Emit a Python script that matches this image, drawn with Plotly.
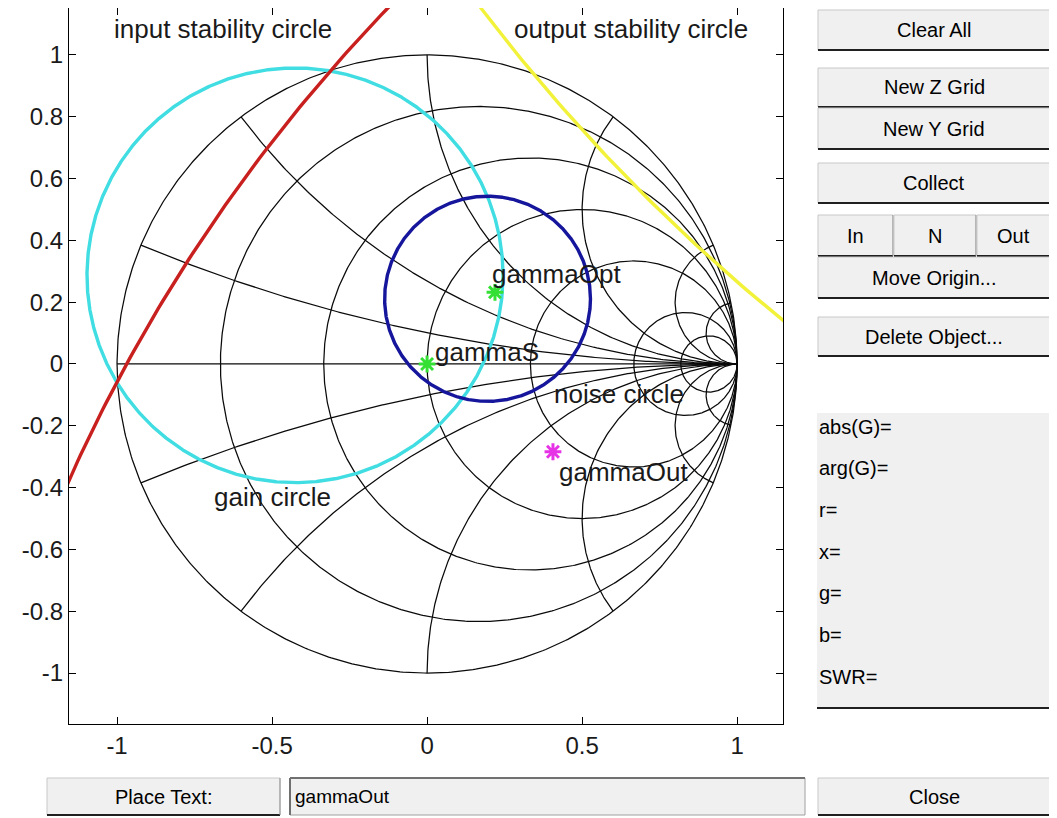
import numpy as np
import plotly.graph_objects as go

# ---------------- data ----------------
# Smith chart grid: constant-resistance circles and constant-reactance arcs
r_values = [0, 0.2, 0.5, 1, 2, 5, 10]
x_values = [0.2, 0.5, 1, 2, 5, 10]

# design circles in the reflection-coefficient plane
circle_names = ["gain circle", "noise circle", "input stability circle", "output stability circle"]
circle_cx = [-0.426, 0.195, 3.74, 4.93]
circle_cy = [0.287, 0.211, -2.56, 4.76]
circle_r = [0.671, 0.332, 5.36, 5.97]

# reflection-coefficient points
point_names = ["gammaS", "gammaOpt", "gammaOut"]
point_re = [0.0, 0.219, 0.406]
point_im = [0.0, 0.232, -0.284]

# text labels placed on the chart
label_text = ["input stability circle", "output stability circle", "gammaOpt", "gammaS",
              "noise circle", "gammaOut", "gain circle"]
label_x = [-1.016, 0.274, 0.203, 0.019, 0.403, 0.419, -0.694]
label_y = [1.084, 1.084, 0.290, 0.040, -0.098, -0.348, -0.432]

x_ticks = [-1, -0.5, 0, 0.5, 1]
x_ticktext = ["-1", "-0.5", "0", "0.5", "1"]
y_ticks = [1, 0.8, 0.6, 0.4, 0.2, 0, -0.2, -0.4, -0.6, -0.8, -1]
y_ticktext = ["1", "0.8", "0.6", "0.4", "0.2", "0", "-0.2", "-0.4", "-0.6", "-0.8", "-1"]

button_labels = ["Clear All", "New Z Grid", "New Y Grid", "Collect", "In", "N", "Out",
                 "Move Origin...", "Delete Object...", "Place Text:", "Close"]
readout_labels = ["abs(G)=", "arg(G)=", "r=", "x=", "g=", "b=", "SWR="]
text_field_value = "gammaOut"

# ---------------- styles / layout ----------------
OFF = 8                       # page body margin of the browser
W, H = 1057 - OFF, 818 - OFF  # figure size
AX_L, AX_R, AX_T, AX_B = 69, 783, 8, 724   # target pixel box of the axes on the page
FONT = "Liberation Sans, Arial, sans-serif"
circle_colors = ["#40dde2", "#16169c", "#c8201e", "#f2f23a"]
point_colors = ["#33e033", "#33e033", "#e633e6"]

button_boxes = [
    (818, 10, 1050, 50), (818, 68, 1050, 107), (818, 108, 1050, 149), (818, 163, 1050, 203),
    (818, 215, 893, 256), (894, 215, 976, 256), (977, 215, 1050, 256), (818, 257, 1050, 298),
    (818, 317, 1050, 356), (47, 778, 280, 815), (818, 778, 1050, 815),
]
readout_box = (817, 413, 1050, 708)
readout_ys = [427, 468, 510, 552, 593, 635, 677]
field_box = (290, 778, 805, 815)


def gamma(z):
    return (z - 1) / (z + 1)


gx, gy = [], []
t = np.linspace(0, 2 * np.pi, 721)
for r in r_values:
    c = r / (1 + r)
    rad = 1 / (1 + r)
    gx += list(c + rad * np.cos(t)) + [None]
    gy += list(rad * np.sin(t)) + [None]
rr = np.concatenate([np.linspace(0, 1, 120, endpoint=False), np.logspace(0, 5, 400)])
for xv in x_values:
    for s in (1, -1):
        g = gamma(rr + 1j * s * xv)
        gx += list(g.real) + [1.0, None]
        gy += list(g.imag) + [0.0, None]
gx += [-1, 1, None]
gy += [0, 0, None]

fig = go.Figure()
fig.add_trace(go.Scatter(x=gx, y=gy, mode="lines", line=dict(color="#0a0a0a", width=1.25),
                         hoverinfo="skip", showlegend=False))

tt = np.linspace(0, 2 * np.pi, 1441)
for name, cx, cy, rad, col in zip(circle_names, circle_cx, circle_cy, circle_r, circle_colors):
    fig.add_trace(go.Scatter(x=cx + rad * np.cos(tt), y=cy + rad * np.sin(tt), mode="lines",
                             line=dict(color=col, width=3.4), name=name, showlegend=False))

for name, px, py, col in zip(point_names, point_re, point_im, point_colors):
    fig.add_trace(go.Scatter(x=[px], y=[py], mode="markers", name=name, showlegend=False,
                             marker=dict(symbol="asterisk-open", size=14, color=col,
                                         line=dict(color=col, width=3))))

annotations = []
for txt, lx, ly in zip(label_text, label_x, label_y):
    annotations.append(dict(x=lx, y=ly, xref="x", yref="y", text=txt, showarrow=False,
                            xanchor="left", yanchor="middle",
                            font=dict(family=FONT, size=26, color="#1a1a1a")))


def px2paper(px, py):
    return (px - OFF) / W, 1 - (py - OFF) / H


shapes = []


def add_button(box, label):
    x0, y0, x1, y1 = box
    a0, b0 = px2paper(x0, y0)
    a1, b1 = px2paper(x1, y1)
    shapes.append(dict(type="rect", xref="paper", yref="paper", x0=a0, x1=a1, y0=b1, y1=b0,
                       fillcolor="#f0f0f0", line=dict(color="#c8c8c8", width=1), layer="above"))
    shapes.append(dict(type="line", xref="paper", yref="paper", x0=a0, x1=a1, y0=b1, y1=b1,
                       line=dict(color="#202020", width=2), layer="above"))
    shapes.append(dict(type="line", xref="paper", yref="paper", x0=a1, x1=a1, y0=b1, y1=b0,
                       line=dict(color="#909090", width=1), layer="above"))
    cxp, cyp = px2paper((x0 + x1) / 2, (y0 + y1) / 2)
    annotations.append(dict(x=cxp, y=cyp, xref="paper", yref="paper", text=label,
                            showarrow=False, xanchor="center", yanchor="middle",
                            font=dict(family=FONT, size=20, color="#000000")))


for box, lab in zip(button_boxes, button_labels):
    add_button(box, lab)

# readout panel
x0, y0, x1, y1 = readout_box
a0, b0 = px2paper(x0, y0)
a1, b1 = px2paper(x1, y1)
shapes.append(dict(type="rect", xref="paper", yref="paper", x0=a0, x1=a1, y0=b1, y1=b0,
                   fillcolor="#f0f0f0", line=dict(color="#f0f0f0", width=0), layer="above"))
shapes.append(dict(type="line", xref="paper", yref="paper", x0=a0, x1=a1, y0=b1, y1=b1,
                   line=dict(color="#202020", width=2), layer="above"))
for lab, yy in zip(readout_labels, readout_ys):
    pxp, pyp = px2paper(817, yy)
    annotations.append(dict(x=pxp, y=pyp, xref="paper", yref="paper", text=lab, showarrow=False,
                            xanchor="left", yanchor="middle",
                            font=dict(family=FONT, size=20, color="#000000")))

# text field
x0, y0, x1, y1 = field_box
a0, b0 = px2paper(x0, y0)
a1, b1 = px2paper(x1, y1)
shapes.append(dict(type="rect", xref="paper", yref="paper", x0=a0, x1=a1, y0=b1, y1=b0,
                   fillcolor="#f0f0f0", line=dict(color="#a0a0a0", width=1), layer="above"))
shapes.append(dict(type="line", xref="paper", yref="paper", x0=a0, x1=a1, y0=b0, y1=b0,
                   line=dict(color="#707070", width=2), layer="above"))
shapes.append(dict(type="line", xref="paper", yref="paper", x0=a0, x1=a0, y0=b1, y1=b0,
                   line=dict(color="#707070", width=2), layer="above"))
pxp, pyp = px2paper(293, (y0 + y1) / 2)
annotations.append(dict(x=pxp, y=pyp, xref="paper", yref="paper", text=text_field_value,
                        showarrow=False, xanchor="left", yanchor="middle",
                        font=dict(family=FONT, size=19, color="#000000")))

axis_common = dict(showline=True, linecolor="black", linewidth=1, mirror="ticks",
                   ticks="inside", ticklen=7, tickcolor="black", showgrid=False,
                   zeroline=False, tickfont=dict(family=FONT, size=24, color="#1a1a1a"),
                   ticklabelstandoff=0, fixedrange=True)

fig.update_layout(
    width=W, height=H, margin=dict(l=0, r=0, t=0, b=0),
    paper_bgcolor="white", plot_bgcolor="white",
    xaxis=dict(domain=[(AX_L - OFF) / W, (AX_R - OFF) / W], range=[-1.155, 1.148],
               tickvals=x_ticks, ticktext=x_ticktext, **axis_common),
    yaxis=dict(domain=[1 - (AX_B - OFF) / H, 1 - (AX_T - OFF) / H], range=[-1.165, 1.152],
               tickvals=y_ticks, ticktext=y_ticktext, **axis_common),
    shapes=shapes, annotations=annotations, showlegend=False,
)

fig.write_html("out.html")
